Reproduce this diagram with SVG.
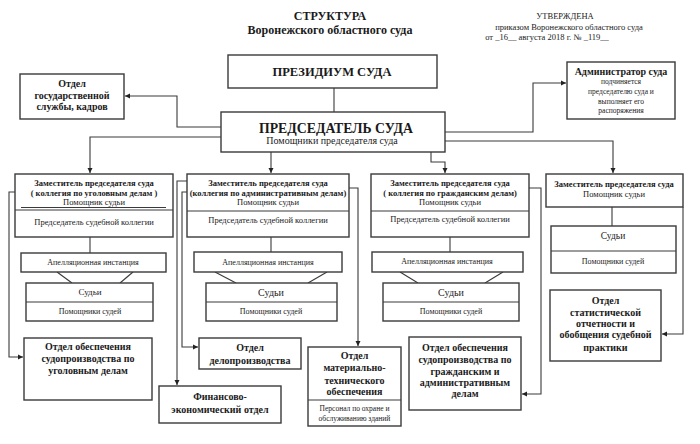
<svg xmlns="http://www.w3.org/2000/svg" width="700" height="444" viewBox="0 0 700 444">
<style>
text{font-family:"Liberation Serif","Times New Roman",serif;fill:#1a1a1a;text-anchor:middle}
.b{font-weight:bold}
.box{fill:#fff;stroke:#3a3a3a;stroke-width:1.4}
.ln{fill:none;stroke:#3a3a3a;stroke-width:1.1}
.con{fill:none;stroke:#3a3a3a;stroke-width:1.1}
</style>
<defs>
<marker id="ah" markerWidth="6" markerHeight="6" refX="5" refY="3" orient="auto" markerUnits="userSpaceOnUse">
<path d="M0,0.5 L5,3 L0,5.5 Z" fill="#222"/>
</marker>
</defs>
<rect width="700" height="444" fill="#fff"/>

<g id="title">
<text class="b" x="330" y="20" font-size="12">СТРУКТУРА</text>
<text class="b" x="330" y="34" font-size="12">Воронежского областного суда</text>
</g>
<g id="approval">
<text x="565" y="19" font-size="8.5">УТВЕРЖДЕНА</text>
<text x="569" y="30" font-size="8.5">приказом Воронежского областного суда</text>
<text x="547" y="40" font-size="8.5">от _16__ августа 2018 г. № _119__</text>
</g>

<g id="connectors">
<line class="con" x1="334" y1="88" x2="334" y2="112"/>
<polyline class="con" points="221,127 177,127 177,96 125,96" marker-end="url(#ah)"/>
<polyline class="con" points="221,137 90,137 90,173" marker-end="url(#ah)"/>
<polyline class="con" points="271,152 271,173" marker-end="url(#ah)"/>
<polyline class="con" points="431,152 431,162 445,162 445,173" marker-end="url(#ah)"/>
<polyline class="con" points="445,132 533,132 533,83 566,83" marker-end="url(#ah)"/>
<polyline class="con" points="445,141 613,141 613,173" marker-end="url(#ah)"/>
<polyline class="con" points="15,192 9,192 9,357 23,357" marker-end="url(#ah)"/>
<polyline class="con" points="187,181 177,181 177,385" marker-end="url(#ah)"/>
<polyline class="con" points="187,192 182,192 182,347 198,347" marker-end="url(#ah)"/>
<polyline class="con" points="349,188 358,188 358,346" marker-end="url(#ah)"/>
<polyline class="con" points="529,188 541,188 541,394 522,394" marker-end="url(#ah)"/>
<polyline class="con" points="683,207 683,334 662,334" marker-end="url(#ah)"/>
<line class="con" x1="90" y1="237" x2="90" y2="253"/>
<line class="con" x1="271" y1="237" x2="271" y2="252"/>
<line class="con" x1="450" y1="237" x2="450" y2="252"/>
<line class="con" x1="612" y1="207" x2="612" y2="226"/>
<line class="con" x1="57" y1="272" x2="72" y2="283"/>
<line class="con" x1="133" y1="272" x2="120" y2="283"/>
<line class="con" x1="215" y1="272" x2="236" y2="283"/>
<line class="con" x1="327" y1="272" x2="308" y2="283"/>
<line class="con" x1="400" y1="272" x2="418" y2="283"/>
<line class="con" x1="503" y1="272" x2="485" y2="283"/>
</g>

<g id="presidium">
<rect class="box" x="228" y="55" width="209" height="33"/>
<text class="b" x="332" y="76" font-size="12.5">ПРЕЗИДИУМ СУДА</text>
</g>

<g id="chairman">
<rect class="box" x="221" y="112" width="224" height="40"/>
<text class="b" x="336" y="133" font-size="14.5" textLength="154" lengthAdjust="spacingAndGlyphs">ПРЕДСЕДАТЕЛЬ  СУДА</text>
<text x="332" y="144" font-size="10">Помощники председателя суда</text>
</g>

<g id="hr">
<rect class="box" x="20" y="74" width="104" height="45"/>
<text class="b" x="72" y="87" font-size="10">Отдел</text>
<text class="b" x="72" y="99" font-size="10">государственной</text>
<text class="b" x="72" y="110" font-size="10">службы, кадров</text>
</g>

<g id="admin">
<rect class="box" x="567" y="62" width="108" height="57"/>
<text class="b" x="621" y="75" font-size="10">Администратор суда</text>
<text x="621" y="84" font-size="7.5">подчиняется</text>
<text x="621" y="94" font-size="7.5">председателю суда и</text>
<text x="621" y="104" font-size="7.5">выполняет его</text>
<text x="621" y="113" font-size="7.5">распоряжения</text>
</g>

<g id="deputy1">
<rect class="box" x="15" y="174" width="158" height="63"/>
<text class="b" x="94" y="186" font-size="8.5">Заместитель председателя суда</text>
<text class="b" x="94" y="196" font-size="8.5">( коллегия по уголовным делам )</text>
<text x="94" y="205" font-size="8.5">Помощник судьи</text>
<line class="ln" x1="21" y1="207.5" x2="166" y2="207.5"/>
<line class="ln" x1="15" y1="210" x2="173" y2="210"/>
<text x="94" y="225" font-size="8.5">Председатель судебной коллегии</text>
</g>
<g id="appeal1">
<rect class="box" x="21" y="253" width="145" height="19"/>
<text x="93" y="265" font-size="8">Апелляционная инстанция</text>
</g>
<g id="judges1">
<rect class="box" x="26" y="283" width="127" height="38"/>
<line class="ln" x1="26" y1="302" x2="153" y2="302"/>
<text x="90" y="295" font-size="9">Судьи</text>
<text x="90" y="314" font-size="8">Помощники судей</text>
</g>

<g id="deputy2">
<rect class="box" x="187" y="174" width="162" height="63"/>
<text class="b" x="268" y="186" font-size="8.5">Заместитель председателя суда</text>
<text class="b" x="268" y="196" font-size="8.5">(коллегия по административным делам)</text>
<text x="268" y="205" font-size="8.5">Помощник судьи</text>
<line class="ln" x1="187" y1="211" x2="349" y2="211"/>
<text x="268" y="223" font-size="8.5">Председатель судебной коллегии</text>
</g>
<g id="appeal2">
<rect class="box" x="194" y="252" width="148" height="20"/>
<text x="268" y="265" font-size="8">Апелляционная инстанция</text>
</g>
<g id="judges2">
<rect class="box" x="206" y="283" width="131" height="38"/>
<line class="ln" x1="206" y1="302" x2="337" y2="302"/>
<text x="271" y="296" font-size="10">Судьи</text>
<text x="271" y="314" font-size="8">Помощники судей</text>
</g>

<g id="deputy3">
<rect class="box" x="371" y="174" width="158" height="63"/>
<text class="b" x="450" y="186" font-size="8.5">Заместитель председателя суда</text>
<text class="b" x="450" y="196" font-size="8.5">( коллегия по гражданским делам)</text>
<text x="450" y="205" font-size="8.5">Помощник судьи</text>
<line class="ln" x1="371" y1="211" x2="529" y2="211"/>
<text x="450" y="222" font-size="8.5">Председатель судебной коллегии</text>
</g>
<g id="appeal3">
<rect class="box" x="372" y="252" width="151" height="20"/>
<text x="447" y="264" font-size="8">Апелляционная инстанция</text>
</g>
<g id="judges3">
<rect class="box" x="383" y="283" width="136" height="38"/>
<line class="ln" x1="383" y1="302" x2="519" y2="302"/>
<text x="451" y="296" font-size="10">Судьи</text>
<text x="451" y="314" font-size="8">Помощники судей</text>
</g>

<g id="deputy4">
<rect class="box" x="546" y="174" width="137" height="33"/>
<text class="b" x="614" y="187" font-size="8.5">Заместитель председателя суда</text>
<text x="614" y="197" font-size="8.5">Помощник судьи</text>
</g>
<g id="judges4">
<rect class="box" x="551" y="226" width="125" height="47"/>
<line class="ln" x1="551" y1="251" x2="676" y2="251"/>
<text x="613" y="239" font-size="9.5">Судьи</text>
<text x="613" y="264" font-size="8">Помощники судей</text>
</g>

<g id="dept-criminal">
<rect class="box" x="24" y="338" width="128" height="62"/>
<text class="b" x="88" y="350" font-size="10">Отдел обеспечения</text>
<text class="b" x="88" y="362" font-size="10">судопроизводства по</text>
<text class="b" x="88" y="374" font-size="10">уголовным делам</text>
</g>

<g id="dept-records">
<rect class="box" x="199" y="338" width="102" height="31"/>
<text class="b" x="250" y="351" font-size="10">Отдел</text>
<text class="b" x="250" y="364" font-size="10">делопроизводства</text>
</g>

<g id="dept-finance">
<rect class="box" x="159" y="386" width="122" height="37"/>
<text class="b" x="220" y="400" font-size="10">Финансово-</text>
<text class="b" x="220" y="413" font-size="10">экономический отдел</text>
</g>

<g id="dept-logistics">
<rect class="box" x="308" y="347" width="93" height="79"/>
<line class="ln" x1="308" y1="400" x2="401" y2="400"/>
<text class="b" x="354.5" y="359" font-size="10">Отдел</text>
<text class="b" x="354.5" y="371" font-size="10">материально-</text>
<text class="b" x="354.5" y="384" font-size="10">технического</text>
<text class="b" x="354.5" y="395" font-size="10">обеспечения</text>
<text x="354.5" y="411" font-size="7.5">Персонал по охране и</text>
<text x="354.5" y="421" font-size="7.5">обслуживанию зданий</text>
</g>

<g id="dept-civil">
<rect class="box" x="409" y="337" width="112" height="73"/>
<text class="b" x="465" y="351" font-size="10">Отдел  обеспечения</text>
<text class="b" x="465" y="363" font-size="10">судопроизводства по</text>
<text class="b" x="465" y="375" font-size="10">гражданским и</text>
<text class="b" x="465" y="386" font-size="10">административным</text>
<text class="b" x="465" y="397" font-size="10">делам</text>
</g>

<g id="dept-stats">
<rect class="box" x="550" y="290" width="111" height="71"/>
<text class="b" x="605.5" y="304" font-size="10">Отдел</text>
<text class="b" x="605.5" y="316" font-size="10">статистической</text>
<text class="b" x="605.5" y="327" font-size="10">отчетности и</text>
<text class="b" x="605.5" y="338" font-size="10">обобщения судебной</text>
<text class="b" x="605.5" y="351" font-size="10">практики</text>
</g>
</svg>
